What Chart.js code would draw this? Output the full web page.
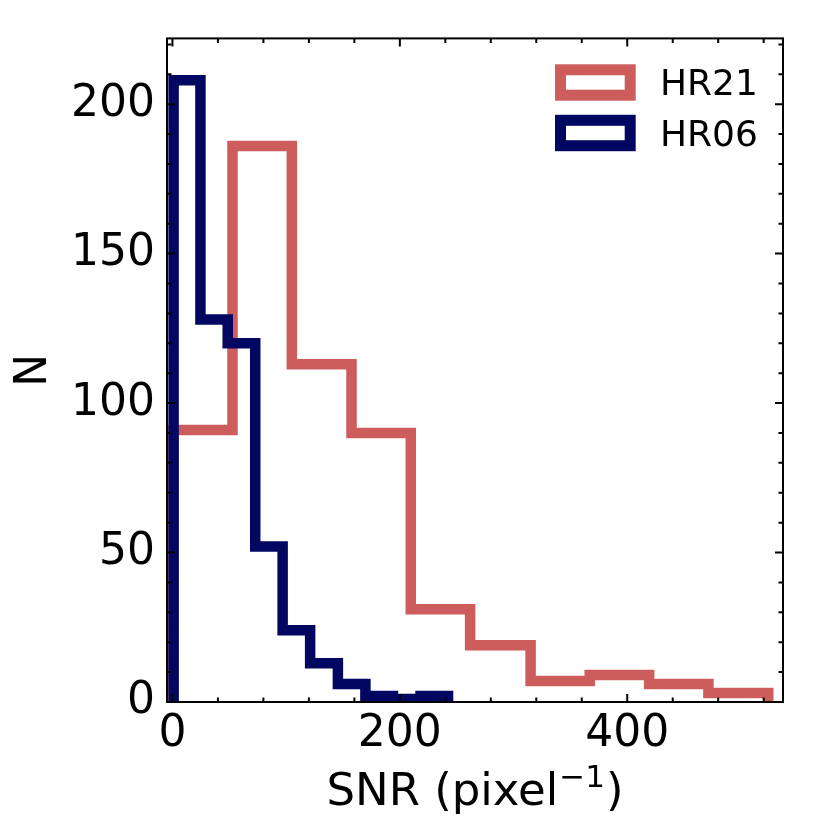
<!DOCTYPE html>
<html>
<head>
<meta charset="utf-8">
<script src="https://cdn.jsdelivr.net/npm/chart.js@4.4.1/dist/chart.umd.min.js"></script>
<style>
  html, body { margin: 0; padding: 0; background: #fff; }
  canvas { display: block; }
</style>
</head>
<body>
<canvas id="myChart" width="830" height="830"></canvas>
<script>
// bin edges and counts
const hr21Edges = [0.8, 52.8, 105, 157.5, 209.6, 261.8, 315, 367, 419.3, 471.4, 524];
const hr21Counts = [91, 186, 113, 90, 31, 19, 7, 9, 6, 3];
const hr06Edges = [1, 24.6, 48.6, 72.8, 96.9, 121.1, 145.5, 169.7, 193.9, 218.2, 242.4];
const hr06Counts = [208, 128, 120, 52, 24, 13, 6, 2, 1, 2];

const xTicks = [0, 200, 400];
const yTicks = [0, 50, 100, 150, 200];

const RED = '#CD5C5C';
const NAVY = '#020762';

// outline of a step histogram: up at first edge, across each bin, down at last edge
const stepPoints = (edges, counts) => {
    const pts = [{ x: edges[0], y: 0 }];
    counts.forEach((c, i) => pts.push({ x: edges[i], y: c }));
    pts.push({ x: edges[edges.length - 1], y: 0 });
    return pts;
};

// inward ticks on all four sides, the frame, x label with superscript, legend
const frameTicks = {
    id: 'frameTicks',
    afterDraw(chart) {
        const { ctx, chartArea: a, scales } = chart;
        const x = scales.x, y = scales.y;
        ctx.save();
        ctx.strokeStyle = '#000';

        const xMinor = [], yMinor = [];
        for (let v = 40; v < x.max; v += 40) if (!xTicks.includes(v)) xMinor.push(v);
        for (let v = 10; v < y.max; v += 10) if (!yTicks.includes(v)) yMinor.push(v);

        const drawX = (vals, len, w) => {
            ctx.lineWidth = w;
            vals.forEach(v => {
                const px = x.getPixelForValue(v);
                ctx.beginPath();
                ctx.moveTo(px, a.bottom); ctx.lineTo(px, a.bottom - len);
                ctx.moveTo(px, a.top); ctx.lineTo(px, a.top + len);
                ctx.stroke();
            });
        };
        const drawY = (vals, len, w) => {
            ctx.lineWidth = w;
            vals.forEach(v => {
                const py = y.getPixelForValue(v);
                ctx.beginPath();
                ctx.moveTo(a.left, py); ctx.lineTo(a.left + len, py);
                ctx.moveTo(a.right, py); ctx.lineTo(a.right - len, py);
                ctx.stroke();
            });
        };
        drawX(xTicks, 8, 2);
        drawX(xMinor, 4.5, 2);
        drawY(yTicks, 8, 2);
        drawY(yMinor, 4.5, 2);

        ctx.lineWidth = 2;
        ctx.strokeRect(a.left, a.top, a.right - a.left, a.bottom - a.top);

        // x label: SNR (pixel^-1)
        ctx.fillStyle = '#000';
        ctx.textAlign = 'left';
        ctx.textBaseline = 'alphabetic';
        const big = '45px "DejaVu Sans"', small = '31px "DejaVu Sans"';
        const p1 = 'SNR (pixel', p2 = '\u22121', p3 = ')';
        ctx.font = big;
        const w1 = ctx.measureText(p1).width;
        const w3 = ctx.measureText(p3).width;
        ctx.font = small;
        const w2 = ctx.measureText(p2).width;
        const gap1 = 1, gap2 = 1;
        let tx = (a.left + a.right) / 2 - (w1 + gap1 + w2 + gap2 + w3) / 2;
        ctx.font = big;
        ctx.fillText(p1, tx, 805);
        ctx.font = small;
        ctx.fillText(p2, tx + w1 + gap1, 787);
        ctx.font = big;
        ctx.fillText(p3, tx + w1 + gap1 + w2 + gap2, 805);

        // legend, matplotlib style patches
        ctx.font = '36px "DejaVu Sans"';
        chart.data.datasets.forEach((ds, i) => {
            const top = 69.8 + i * 50.5;
            ctx.fillStyle = '#fff';
            ctx.fillRect(560.5, top, 69.7, 25.4);
            ctx.strokeStyle = ds.borderColor;
            ctx.lineWidth = 11;
            ctx.strokeRect(560.5, top, 69.7, 25.4);
            ctx.fillStyle = '#000';
            ctx.fillText(ds.label, 660, top + 25.4);
        });
        ctx.restore();
    }
};

document.addEventListener('DOMContentLoaded', () => {
    Chart.defaults.font.family = '"DejaVu Sans", sans-serif';
    Chart.defaults.color = '#000';

    const ctx = document.getElementById('myChart');
    new Chart(ctx, {
        type: 'line',
        data: {
            datasets: [
                {
                    label: 'HR21',
                    data: stepPoints(hr21Edges, hr21Counts),
                    borderColor: RED,
                    backgroundColor: '#fff',
                    borderWidth: 10.5,
                    stepped: 'before',
                    pointRadius: 0,
                    fill: false,
                    borderJoinStyle: 'miter',
                    borderCapStyle: 'butt',
                    clip: 0,
                    order: 1
                },
                {
                    label: 'HR06',
                    data: stepPoints(hr06Edges, hr06Counts),
                    borderColor: NAVY,
                    backgroundColor: '#fff',
                    borderWidth: 10.5,
                    stepped: 'before',
                    pointRadius: 0,
                    fill: false,
                    borderJoinStyle: 'miter',
                    borderCapStyle: 'butt',
                    clip: 0,
                    order: 0
                }
            ]
        },
        options: {
            responsive: false,
            animation: false,
            devicePixelRatio: 1,
            layout: { padding: { top: 37, right: 47, left: 0, bottom: 0 } },
            plugins: {
                legend: { display: false },
                tooltip: { enabled: false }
            },
            scales: {
                x: {
                    type: 'linear',
                    min: -4.8,
                    max: 537,
                    grid: { display: false, drawTicks: false },
                    border: { display: false },
                    afterBuildTicks: (s) => { s.ticks = xTicks.map(v => ({ value: v })); },
                    afterFit: (s) => { s.height = 128; },
                    ticks: { font: { size: 44 }, padding: 6, maxRotation: 0 },
                    title: { display: false }
                },
                y: {
                    type: 'linear',
                    min: 0,
                    max: 222,
                    grid: { display: false, drawTicks: false },
                    border: { display: false },
                    afterBuildTicks: (s) => { s.ticks = yTicks.map(v => ({ value: v })); },
                    afterFit: (s) => { s.width = 167; },
                    ticks: { font: { size: 44 }, padding: 12 },
                    title: {
                        display: true,
                        text: 'N',
                        font: { size: 44 },
                        padding: { top: 8, bottom: 0 }
                    }
                }
            }
        },
        plugins: [frameTicks]
    });
});
</script>
</body>
</html>
